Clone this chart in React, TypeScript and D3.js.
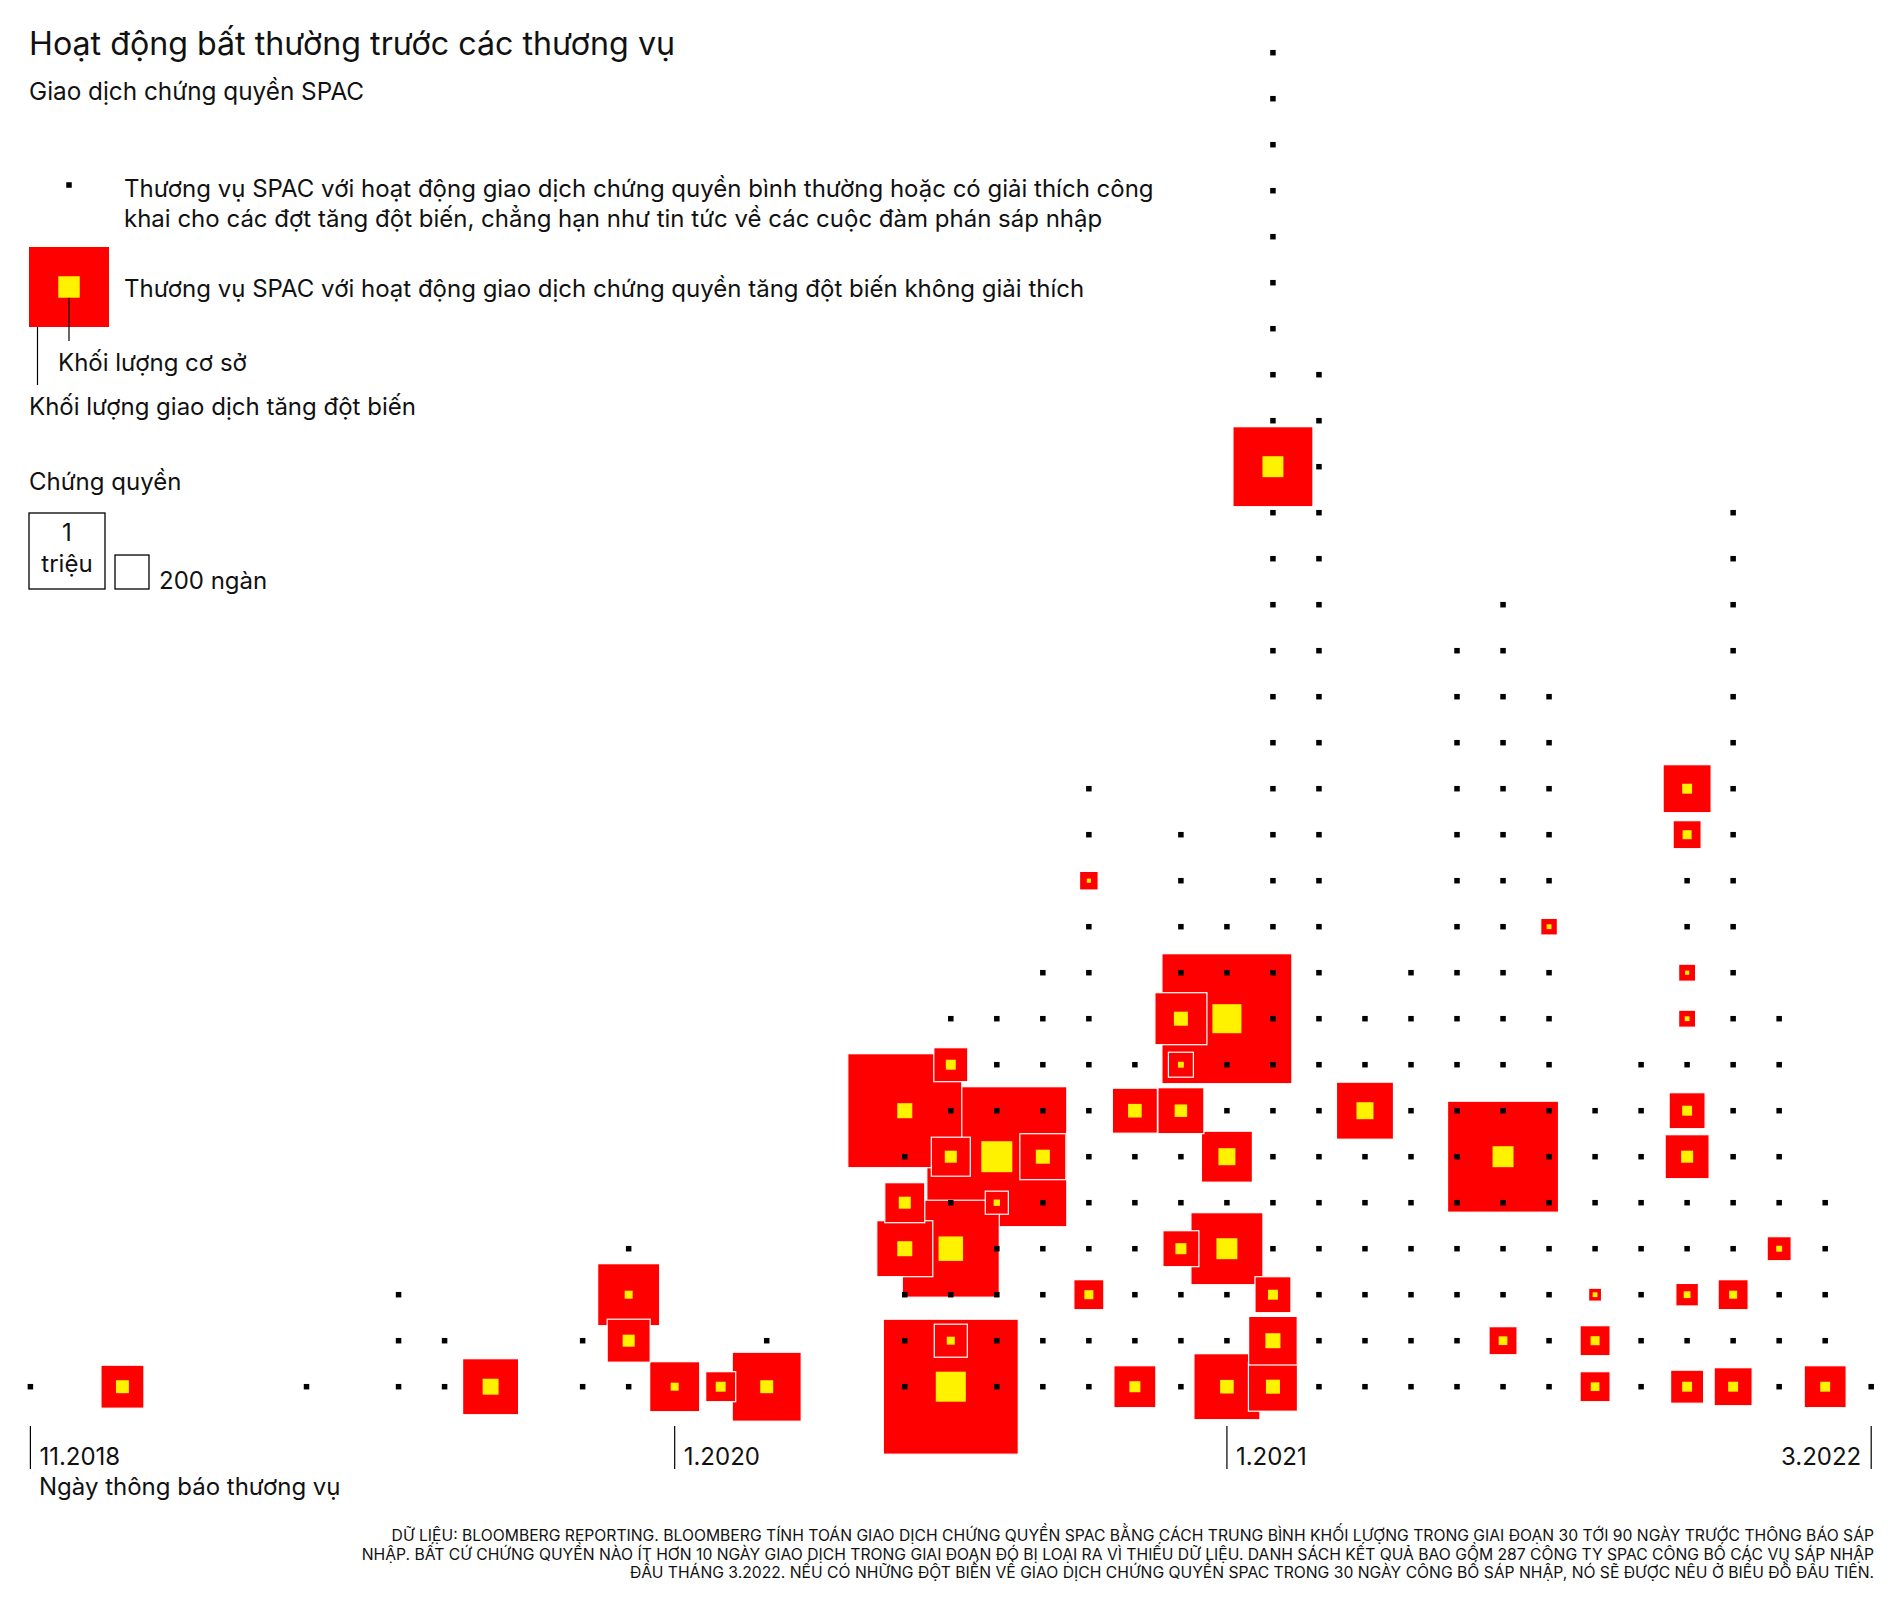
import React from "react";
import * as d3 from "d3";

// deals per announcement month, Nov 2018 .. Mar 2022 (41 months)
const monthCounts = [
  1, 0, 1, 0, 0, 0, 1, 0, 3, 2, 1, 0, 2, 4, 1, 1, 2, 0, 0, 7, 9,
  9, 10, 14, 8, 13, 11, 30, 23, 9, 10, 17, 18, 16, 7, 8, 14, 20, 9, 5, 1,
];

// unexplained spikes: [month index, slot in the month's stack, spike volume (k), base volume (k)]
const spikeDeals = [
  [2, 0, 320, 29],
  [10, 0, 543, 44],
  [13, 1, 320, 25],
  [13, 2, 666, 11],
  [14, 0, 433, 11],
  [15, 0, 156, 17],
  [16, 0, 824, 29],
  [19, 3, 543, 39],
  [19, 4, 277, 25],
  [19, 6, 2250, 39],
  [20, 0, 3155, 156],
  [20, 1, 189, 11],
  [20, 3, 1629, 104],
  [20, 5, 263, 25],
  [20, 7, 200, 17],
  [21, 4, 92, 7],
  [21, 5, 3393, 166],
  [22, 5, 366, 34],
  [23, 2, 156, 14],
  [23, 11, 60, 3],
  [24, 0, 305, 21],
  [24, 6, 351, 32],
  [25, 3, 224, 21],
  [25, 6, 366, 27],
  [25, 7, 108, 6],
  [25, 8, 468, 34],
  [26, 0, 754, 32],
  [26, 3, 898, 76],
  [26, 5, 450, 50],
  [26, 8, 2926, 146],
  [27, 0, 416, 34],
  [27, 1, 409, 39],
  [27, 2, 224, 17],
  [27, 20, 1108, 76],
  [29, 6, 563, 50],
  [32, 1, 136, 13],
  [32, 5, 2133, 76],
  [33, 10, 48, 4],
  [34, 0, 156, 13],
  [34, 1, 156, 14],
  [34, 2, 29, 4],
  [36, 0, 189, 17],
  [36, 2, 88, 8],
  [36, 5, 335, 25],
  [36, 6, 224, 17],
  [36, 8, 50, 4],
  [36, 9, 50, 3],
  [36, 12, 136, 14],
  [36, 13, 399, 17],
  [37, 0, 250, 17],
  [37, 2, 156, 11],
  [38, 3, 100, 6],
  [39, 0, 305, 17],
];

const tickMonths = [0, 14, 26, 40];
const tickLabels = ["11.2018", "1.2020", "1.2021", "3.2022"];

const legendSizes = [1000, 200]; // thousand warrants
const legendSample = [1108, 80]; // spike, base

const footerLines = [
  "DỮ LIỆU: BLOOMBERG REPORTING. BLOOMBERG TÍNH TOÁN GIAO DỊCH CHỨNG QUYỀN SPAC BẰNG CÁCH TRUNG BÌNH KHỐI LƯỢNG TRONG GIAI ĐOẠN 30 TỚI 90 NGÀY TRƯỚC THÔNG BÁO SÁP",
  "NHẬP. BẤT CỨ CHỨNG QUYỀN NÀO ÍT HƠN 10 NGÀY GIAO DỊCH TRONG GIAI ĐOẠN ĐÓ BỊ LOẠI RA VÌ THIẾU DỮ LIỆU. DANH SÁCH KẾT QUẢ BAO GỒM 287 CÔNG TY SPAC CÔNG BỐ CÁC VỤ SÁP NHẬP",
  "ĐẦU THÁNG 3.2022. NẾU CÓ NHỮNG ĐỘT BIẾN VỀ GIAO DỊCH CHỨNG QUYỀN SPAC TRONG 30 NGÀY CÔNG BỐ SÁP NHẬP, NÓ SẼ ĐƯỢC NÊU Ở BIỂU ĐỒ ĐẦU TIÊN.",
];

const RED = "#ff0000";
const YELLOW = "#fff200";
const FONT = "Inter, 'Liberation Sans', Arial, sans-serif";

const App = () => {
  const width = 1904;
  const height = 1624;

  // Scales
  const x = d3.scaleLinear().domain([0, 40]).range([30.4, 1871.2]);
  const y = d3.scaleLinear().domain([0, 29]).range([1386.7, 52.7]);
  const side = d3.scaleSqrt().domain([0, 1000]).range([0, 76]);

  const spikeKeys = new Set(spikeDeals.map((d) => `${d[0]}-${d[1]}`));

  // plain deals drawn as dots
  const dots = [];
  monthCounts.forEach((n, m) => {
    d3.range(n).forEach((slot) => {
      if (!spikeKeys.has(`${m}-${slot}`)) dots.push([m, slot]);
    });
  });

  // biggest squares first so smaller ones sit on top
  const spikes = [...spikeDeals].sort((a, b) => b[2] - a[2]);

  const dot = 5.5;
  const fs = 24;
  const textStyle = { fontFamily: FONT, fill: "#111" };

  const sampleS = side(legendSample[0]);
  const sampleB = side(legendSample[1]);
  const boxBottom = 589;

  return (
    <svg
      width={width}
      height={height}
      style={{ position: "absolute", left: 0, top: 0, background: "#fff" }}
    >
      {/* Title */}
      <text x={29} y={55} fontSize={32.2} style={textStyle}>
        Hoạt động bất thường trước các thương vụ
      </text>
      <text x={29} y={100} fontSize={24.3} style={textStyle}>
        Giao dịch chứng quyền SPAC
      </text>

      {/* Legend */}
      <rect x={69 - dot / 2} y={185 - dot / 2} width={dot} height={dot} fill="#000" />
      <text x={124} y={197} fontSize={fs} style={textStyle}>
        Thương vụ SPAC với hoạt động giao dịch chứng quyền bình thường hoặc có giải thích công
      </text>
      <text x={124} y={226.5} fontSize={fs} style={textStyle}>
        khai cho các đợt tăng đột biến, chẳng hạn như tin tức về các cuộc đàm phán sáp nhập
      </text>

      <rect x={69 - sampleS / 2} y={287 - sampleS / 2} width={sampleS} height={sampleS} fill={RED} />
      <rect x={69 - sampleB / 2} y={287 - sampleB / 2} width={sampleB} height={sampleB} fill={YELLOW} />
      <text x={124} y={297} fontSize={fs} style={textStyle}>
        Thương vụ SPAC với hoạt động giao dịch chứng quyền tăng đột biến không giải thích
      </text>
      <line x1={69} x2={69} y1={287 + sampleB / 2} y2={341} stroke="#000" strokeWidth={1.2} />
      <text x={58} y={371} fontSize={fs} style={textStyle}>
        Khối lượng cơ sở
      </text>
      <line x1={37.5} x2={37.5} y1={287 + sampleS / 2} y2={385} stroke="#000" strokeWidth={1.2} />
      <text x={29} y={415} fontSize={fs} style={textStyle}>
        Khối lượng giao dịch tăng đột biến
      </text>

      <text x={29} y={490} fontSize={fs} style={textStyle}>
        Chứng quyền
      </text>
      <rect
        x={29}
        y={boxBottom - side(legendSizes[0])}
        width={side(legendSizes[0])}
        height={side(legendSizes[0])}
        fill="none"
        stroke="#000"
        strokeWidth={1.3}
      />
      <text x={29 + side(legendSizes[0]) / 2} y={541} fontSize={fs} textAnchor="middle" style={textStyle}>
        1
      </text>
      <text x={29 + side(legendSizes[0]) / 2} y={572} fontSize={fs} textAnchor="middle" style={textStyle}>
        triệu
      </text>
      <rect
        x={115}
        y={boxBottom - side(legendSizes[1])}
        width={side(legendSizes[1])}
        height={side(legendSizes[1])}
        fill="none"
        stroke="#000"
        strokeWidth={1.3}
      />
      <text x={159} y={boxBottom} fontSize={fs} style={textStyle}>
        200 ngàn
      </text>

      {/* Spike squares */}
      {spikes.map(([m, slot, spike, base]) => {
        const s = side(spike);
        const b = side(base);
        const cx = x(m);
        const cy = y(slot);
        return (
          <g key={`${m}-${slot}`}>
            <rect
              x={cx - s / 2}
              y={cy - s / 2}
              width={s}
              height={s}
              fill={RED}
              stroke="#fff"
              strokeWidth={1.2}
            />
            <rect x={cx - b / 2} y={cy - b / 2} width={b} height={b} fill={YELLOW} />
          </g>
        );
      })}

      {/* Normal deals */}
      {dots.map(([m, slot]) => (
        <rect
          key={`d${m}-${slot}`}
          x={x(m) - dot / 2}
          y={y(slot) - dot / 2}
          width={dot}
          height={dot}
          fill="#000"
        />
      ))}

      {/* X axis */}
      {tickMonths.map((m, i) => (
        <g key={m}>
          <line x1={x(m)} x2={x(m)} y1={1426} y2={1469} stroke="#000" strokeWidth={1.2} />
          <text
            x={i === tickMonths.length - 1 ? x(m) - 10 : x(m) + 9}
            y={1465}
            fontSize={fs}
            textAnchor={i === tickMonths.length - 1 ? "end" : "start"}
            style={textStyle}
          >
            {tickLabels[i]}
          </text>
        </g>
      ))}
      <text x={39} y={1495} fontSize={fs} style={textStyle}>
        Ngày thông báo thương vụ
      </text>

      {/* Footer */}
      {footerLines.map((t, i) => (
        <text
          key={i}
          x={1874}
          y={1541 + i * 18.5}
          fontSize={15.7}
          textAnchor="end"
          style={textStyle}
        >
          {t}
        </text>
      ))}
    </svg>
  );
};

export default App;
